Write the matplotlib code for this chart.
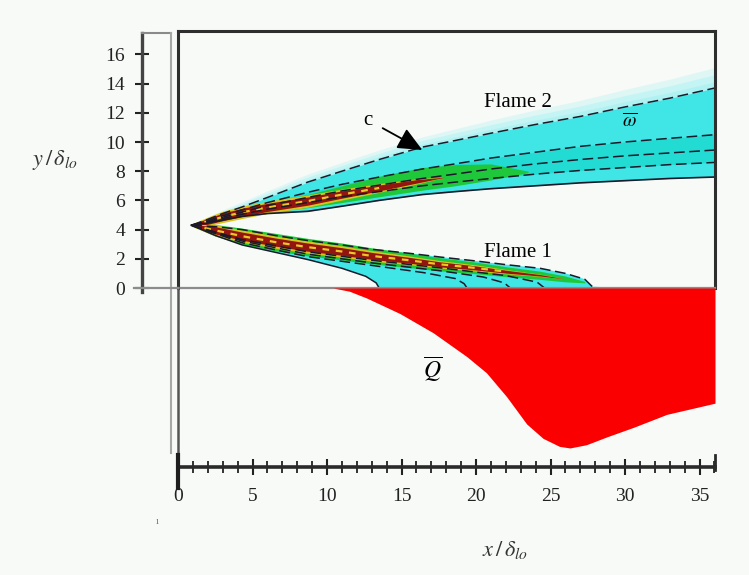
import matplotlib.pyplot as plt
import numpy as np
from matplotlib.lines import Line2D
from matplotlib.ticker import MultipleLocator

plt.rcParams['font.family'] = ['Liberation Serif', 'DejaVu Serif']
plt.rcParams['mathtext.fontset'] = 'stix'

# ---- flame 2 (upper branch) ----
f2_x = [0.9, 2, 3, 4.3, 6, 8.7, 11, 13.5, 16.4, 18.6, 21, 24, 27, 30, 33, 36.04]
f2_top = [4.3, 4.7, 5.1, 5.55, 6.2, 7.25, 8.0, 8.8, 9.65, 10.1, 10.6, 11.2, 11.75, 12.4, 13.0, 13.7]
f2_glow = [0.0, 0.15, 0.25, 0.35, 0.45, 0.55, 0.6, 0.65, 0.7, 0.8, 0.9, 1.0, 1.1, 1.2, 1.3, 1.4]
f2_bot = [4.3, 4.45, 4.65, 4.9, 5.1, 5.25, 5.6, 6.0, 6.4, 6.6, 6.8, 7.0, 7.2, 7.35, 7.5, 7.6]
f2_a = [4.3, 4.6, 4.95, 5.35, 5.85, 6.55, 7.1, 7.6, 8.15, 8.5, 8.9, 9.3, 9.7, 10.0, 10.25, 10.5]
f2_b = [4.3, 4.55, 4.85, 5.2, 5.65, 6.2, 6.65, 7.05, 7.5, 7.8, 8.15, 8.5, 8.8, 9.05, 9.25, 9.45]
f2_c = [4.3, 4.5, 4.75, 5.05, 5.4, 5.85, 6.25, 6.6, 7.0, 7.25, 7.5, 7.8, 8.05, 8.25, 8.45, 8.6]

g2_x = [0.9, 2, 3, 4.3, 6, 8.7, 11, 13.5, 16.4, 18.6, 21, 23.5]
g2_lo = [4.3, 4.48, 4.72, 4.98, 5.2, 5.5, 5.85, 6.25, 6.7, 7.0, 7.4, 7.9]
g2_hi = [4.3, 4.68, 5.05, 5.45, 5.85, 6.4, 7.0, 7.65, 8.25, 8.45, 8.5, 8.0]

r2_x = [0.9, 2, 3, 4.3, 6, 8.7, 11, 13.5, 16, 18]
r2_y = [4.3, 4.56, 4.87, 5.18, 5.52, 5.95, 6.4, 6.85, 7.3, 7.6]
r2_hw = [0.05, 0.2, 0.26, 0.28, 0.28, 0.28, 0.25, 0.2, 0.12, 0.0]

# ---- flame 1 (lower branch) ----
f1u_x = [0.9, 2.5, 4.3, 6.5, 8.7, 11, 13, 15.5, 17.6, 20, 22, 24.3, 26, 27.3, 27.9]
f1u_y = [4.3, 4.2, 4.0, 3.6, 3.25, 2.95, 2.65, 2.38, 2.12, 1.85, 1.6, 1.35, 1.0, 0.6, 0.0]
f1l_x = [0.9, 2.5, 4.3, 6.5, 8.7, 11, 12.6, 13.3, 13.5]
f1l_y = [4.3, 3.6, 2.95, 2.45, 1.95, 1.35, 0.8, 0.35, 0.0]

c1_x = [[0.9, 4.3, 8.7, 13, 16.5, 18.6, 19.2, 19.4],
        [0.9, 4.3, 8.7, 13, 17.6, 20.5, 21.9, 22.3],
        [0.9, 4.3, 8.7, 13, 17.6, 22, 24.1, 24.6]]
c1_y = [[4.3, 3.1, 2.15, 1.55, 1.05, 0.65, 0.3, 0.0],
        [4.3, 3.22, 2.32, 1.72, 1.18, 0.75, 0.35, 0.0],
        [4.3, 3.32, 2.48, 1.9, 1.38, 0.85, 0.4, 0.0]]

g1_x = [0.9, 2.5, 4.3, 6.5, 8.7, 11, 13, 15.5, 17.6, 20, 22, 24.3, 26, 27.3]
core1_y = [4.3, 3.95, 3.55, 3.15, 2.8, 2.5, 2.2, 1.9, 1.62, 1.37, 1.12, 0.87, 0.62, 0.4]
g1_hw = [0.05, 0.4, 0.55, 0.6, 0.6, 0.58, 0.55, 0.5, 0.45, 0.4, 0.34, 0.28, 0.2, 0.05]
r1_hw = [0.05, 0.25, 0.28, 0.28, 0.28, 0.26, 0.24, 0.2, 0.17, 0.14, 0.1, 0.05, 0.0, 0.0]

# ---- mean heat release below the wall ----
q_x = [10.4, 11.5, 12.66, 14.9, 17.13, 19.4, 20.7, 22.06, 23.4, 24.5, 25.6,
       26.3, 27.4, 28.8, 30.6, 32.8, 36.04]
q_val = [0.0, 0.02, 0.0625, 0.16, 0.28, 0.43, 0.53, 0.68, 0.85, 0.94, 0.99,
         1.0, 0.98, 0.93, 0.87, 0.79, 0.72]

BG = '#f7faf7'
W, H = 749, 575


def box(left, top, right, bottom):
    return [left / W, 1 - bottom / H, (right - left) / W, (bottom - top) / H]


fig = plt.figure(figsize=(W / 100, H / 100), dpi=100, facecolor=BG)

ax = fig.add_axes(box(178, 31, 715, 288), facecolor=BG)
ax.set_xlim(0, 36.04)
ax.set_ylim(0, 17.6)
ax.set_xticks([])
ax.set_yticks([])
for s in ['top', 'right', 'left']:
    ax.spines[s].set_color('#2e2e2e')
    ax.spines[s].set_linewidth(2.2)
ax.spines['bottom'].set_color('#8c8c8c')
ax.spines['bottom'].set_linewidth(1.6)

CYAN = '#40e6e6'
GLOW = '#a6f2f2'
DCYAN = '#22dcd4'
GREEN = '#1fc83a'
YELLOW = '#d8c41c'
RED = '#941410'

f2_top_a = np.array(f2_top)
f2_glow_a = np.array(f2_glow)

# flame 2 fill
for frac, al in [(1.0, 0.3), (0.65, 0.45), (0.3, 0.65)]:
    ax.fill_between(f2_x, f2_top_a, f2_top_a + frac * f2_glow_a, color=GLOW, alpha=al, lw=0)
ax.fill_between(f2_x, f2_bot, f2_top, color=CYAN, lw=0)
ax.fill_between(f2_x, f2_c, f2_a, color=DCYAN, lw=0)
ax.fill_between(g2_x, g2_lo, g2_hi, color=GREEN, lw=0)
r2y = np.array(r2_y)
r2hw = np.array(r2_hw)
ax.fill_between(r2_x, r2y - 1.5 * r2hw, r2y + 1.5 * r2hw, color=YELLOW, lw=0)
ax.fill_between(r2_x, r2y - r2hw, r2y + r2hw, color=RED, lw=0)
ax.plot(r2_x[:-2], r2_y[:-2], color='#e8c828', lw=1.6, dashes=(3, 3))

# flame 1 fill
poly_x = np.concatenate([f1u_x, f1l_x[::-1]])
poly_y = np.concatenate([f1u_y, f1l_y[::-1]])
ax.fill(np.concatenate([f1u_x, [28.8]]), np.concatenate([f1u_y, [0.0]]),
        color=GLOW, alpha=0.6, lw=0)
ax.fill(poly_x, poly_y, color=CYAN, lw=0)
c1 = np.array(core1_y)
g1hw = np.array(g1_hw)
r1hw = np.array(r1_hw)
ax.fill_between(g1_x, c1 - g1hw, c1 + g1hw, color=GREEN, lw=0)
ax.fill_between(g1_x, c1 - 1.5 * r1hw, c1 + 1.5 * r1hw, color=YELLOW, lw=0)
ax.fill_between(g1_x, c1 - r1hw, c1 + r1hw, color=RED, lw=0)
ax.plot(g1_x[:-3], core1_y[:-3], color='#e8c828', lw=1.6, dashes=(3, 3))

# contour lines
DASH = dict(color='#1a1a2a', lw=1.1, dashes=(7, 3))
ax.plot(f2_x, f2_top, **DASH)
ax.plot(f2_x, f2_a, **DASH)
ax.plot(f2_x, f2_b, **DASH)
ax.plot(f2_x, f2_c, **DASH)
ax.plot(f2_x, f2_bot, color='#1a1a2a', lw=1.2)
ax.plot(f1u_x, f1u_y, **DASH)
ax.plot(f1l_x, f1l_y, color='#1a1a2a', lw=1.1)
for xs, ys in zip(c1_x, c1_y):
    ax.plot(xs, ys, **DASH)

# labels inside the box
ax.text(22.8, 12.7, 'Flame 2', fontsize=15, ha='center', va='center')
ax.text(22.8, 2.45, 'Flame 1', fontsize=15, ha='center', va='center')
ax.text(30.3, 11.4, r'$\overline{\omega}$', fontsize=14, ha='center', va='center')
ax.annotate('c', xy=(16.4, 9.45), xytext=(12.75, 11.5), fontsize=15, ha='center',
            va='center',
            arrowprops=dict(arrowstyle='-|>,head_length=1.0,head_width=0.45',
                            color='black', lw=1.3, shrinkA=6, shrinkB=0))

# heat release panel
ax_q = fig.add_axes(box(178, 288, 715, 455), facecolor='none')
ax_q.set_xlim(0, 36.04)
ax_q.set_ylim(-1.044, 0)
ax_q.fill_between(q_x, -np.array(q_val), 0, color='#fb0000', lw=0)
ax_q.text(17.1, -0.51, r'$\overline{Q}$', fontsize=17, ha='center', va='center')
ax_q.set_xticks([])
ax_q.set_yticks([])
for s in ['top', 'right', 'bottom']:
    ax_q.spines[s].set_visible(False)
ax_q.spines['left'].set_color('#555555')
ax_q.spines['left'].set_linewidth(1.8)

# x axis
ax_x = fig.add_axes(box(178, 455, 715, 467), facecolor='none')
ax_x.set_xlim(0, 36.04)
for s in ['top', 'right', 'left']:
    ax_x.spines[s].set_visible(False)
ax_x.spines['bottom'].set_color('#2a2a2a')
ax_x.spines['bottom'].set_linewidth(2.6)
ax_x.set_yticks([])
ax_x.set_xticks(range(0, 36, 5))
ax_x.xaxis.set_minor_locator(MultipleLocator(1))
ax_x.tick_params(axis='x', which='major', direction='inout', length=12, width=1.5,
                 pad=9, labelsize=14, colors='#222222')
ax_x.tick_params(axis='x', which='minor', direction='inout', length=8, width=1.3,
                 colors='#222222')

# y axis
ax_y = fig.add_axes(box(142, 33, 150, 292), facecolor='none')
ax_y.set_ylim(-0.274, 17.47)
for s in ['top', 'right', 'bottom']:
    ax_y.spines[s].set_visible(False)
ax_y.spines['left'].set_color('#444444')
ax_y.spines['left'].set_linewidth(2.4)
ax_y.set_xticks([])
ax_y.set_yticks(range(0, 17, 2))
ax_y.tick_params(axis='y', direction='inout', length=10, width=1.5, pad=7,
                 labelsize=14, colors='#222222')

# frame lines around the left side
fig.add_artist(Line2D([142 / W, 171 / W], [1 - 33 / H, 1 - 33 / H], color='#8a8a8a', lw=1.5))
fig.add_artist(Line2D([171 / W, 171 / W], [1 - 33 / H, 1 - 453 / H], color='#a8a8a8', lw=1.5))
fig.add_artist(Line2D([134 / W, 178 / W], [1 - 288 / H, 1 - 288 / H], color='#8c8c8c', lw=1.6))
fig.add_artist(Line2D([178 / W, 178 / W], [1 - 455 / H, 1 - 488 / H], color='#1e1e1e', lw=3))
fig.add_artist(Line2D([715 / W, 715 / W], [1 - 455 / H, 1 - 470 / H], color='#2a2a2a', lw=2))

fig.text(55 / W, 1 - 160 / H, r'$y\,/\,\delta_{lo}$', fontsize=16, ha='center',
         va='center', color='#333333')
fig.text(505 / W, 1 - 550 / H, r'$x\,/\,\delta_{lo}$', fontsize=16, ha='center',
         va='center', color='#333333')
fig.text(157 / W, 1 - 521 / H, 'ı', fontsize=8, ha='center', va='center', color='#777777')

fig.savefig('out.png', dpi=100, facecolor=BG)
